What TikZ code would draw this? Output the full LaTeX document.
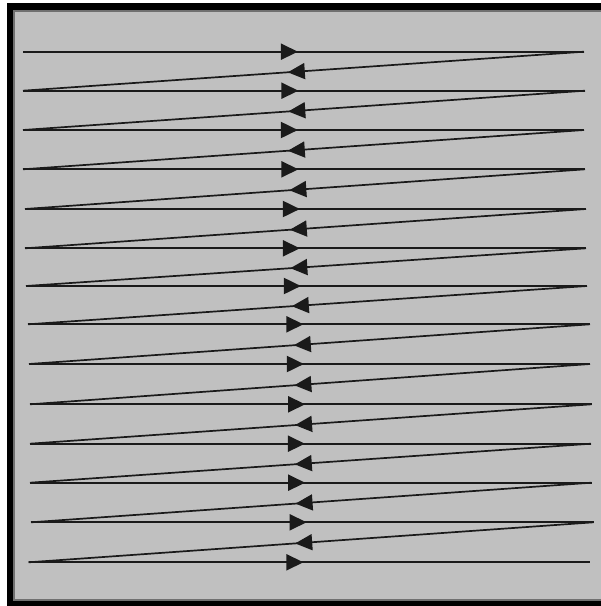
\documentclass[tikz,border=0pt]{standalone}
\usetikzlibrary{arrows.meta,decorations.markings}
\definecolor{panel}{HTML}{C0C0C0}
\definecolor{edgegray}{HTML}{707070}
\definecolor{ink}{HTML}{1A1A1A}
\tikzset{
  tipA/.tip={Triangle[length=17pt,width=16pt]},
  hline/.style={line width=2pt, draw=ink, postaction={decorate},
    decoration={markings, mark=at position 0.49 with {\arrow{tipA}}}},
  dline/.style={line width=1.7pt, draw=ink, postaction={decorate},
    decoration={markings, mark=at position 0.528 with {\arrow{tipA}}}}
}
\begin{document}
\begin{tikzpicture}[x=1pt,y=-1pt]
\useasboundingbox (0,0) rectangle (601,606);
\begin{scope}
\clip (0,0) rectangle (601,606);
\fill[white] (0,0) rectangle (601,606);
\fill[black] (7,3) rectangle (620,615);
\fill[edgegray] (13,10) rectangle (620,601);
\fill[panel] (15,11.5) rectangle (620,599);
\end{scope}
\foreach \i/\xl/\xr/\yy in {1/23/584/51.7, 2/23/585/90.7, 3/23/584/130, 4/23/585/169.3,
  5/25/586/209, 6/25/586/248.3, 7/26/587/286, 8/28/590/324.3, 9/29/590/364,
  10/30/591.5/404.3, 11/30/591/443.7, 12/30/591.5/482.7, 13/31/593.5/522.3, 14/28.5/589.5/562.3}{
  \coordinate (L\i) at (\xl,\yy);
  \coordinate (R\i) at (\xr,\yy);
}
\foreach \i in {1,...,14}{
  \draw[hline] (L\i) -- (R\i);
}
\foreach \i [evaluate=\i as \j using int(\i+1)] in {1,...,13}{
  \draw[dline] (R\i) -- (L\j);
}
\end{tikzpicture}
\end{document}
